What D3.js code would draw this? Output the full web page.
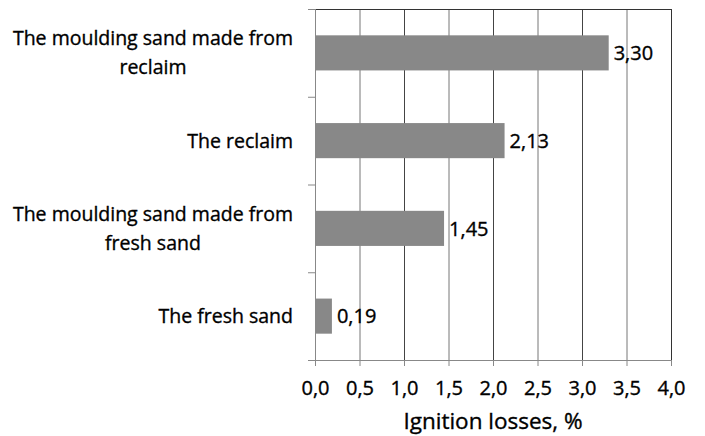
<!DOCTYPE html>
<html>
<head>
<meta charset="utf-8">
<script src="https://cdn.jsdelivr.net/npm/d3@7"></script>
<style>
  body { margin: 0; background: #fff; }
  text { font-family: "Open Sans", sans-serif; fill: #000; stroke: #000; stroke-width: 0.35px; }
</style>
</head>
<body>
<div id="chart"></div>
<script>
// categories from top to bottom, each label split in lines
const categories = [
    ["The moulding sand made from", "reclaim"],
    ["The reclaim"],
    ["The moulding sand made from", "fresh sand"],
    ["The fresh sand"]
];
const values = [3.30, 2.13, 1.45, 0.19];
const valueLabels = ["3,30", "2,13", "1,45", "0,19"];
const xTicks = [0, 0.5, 1, 1.5, 2, 2.5, 3, 3.5, 4];

const width = 705, height = 436;
const margin = {top: 9, right: 34, bottom: 76, left: 315};

const svg = d3.select("#chart").append("svg")
    .attr("width", width)
    .attr("height", height);

const x = d3.scaleLinear()
    .domain([0, 4])
    .range([margin.left, width - margin.right]);

const y = d3.scaleBand()
    .domain(d3.range(categories.length))
    .range([margin.top, height - margin.bottom]);

// vertical gridlines
svg.append("g")
    .selectAll("line")
    .data(xTicks.slice(1))
    .join("line")
    .attr("x1", d => x(d) + 0.5).attr("x2", d => x(d) + 0.5)
    .attr("y1", y.range()[0]).attr("y2", y.range()[1])
    .attr("stroke", (d, i) => i % 2 ? "#444" : "#777")
    .attr("stroke-width", 1);

// plot frame top / right
svg.append("path")
    .attr("d", `M${x(0)},${margin.top + 0.5}H${x(4) + 0.5}V${y.range()[1]}`)
    .attr("fill", "none")
    .attr("stroke", "#333");

// bars
const barH = y.bandwidth() * 0.4;
svg.append("g")
    .selectAll("rect")
    .data(values)
    .join("rect")
    .attr("x", x(0))
    .attr("y", (d, i) => y(i) + (y.bandwidth() - barH) / 2)
    .attr("width", d => x(d) - x(0))
    .attr("height", barH)
    .attr("fill", "#888888");

// value labels
svg.append("g")
    .selectAll("text")
    .data(values)
    .join("text")
    .attr("x", d => x(d) + 5)
    .attr("y", (d, i) => y(i) + y.bandwidth() / 2)
    .attr("dy", "0.36em")
    .attr("font-size", 20)
    .text((d, i) => valueLabels[i]);

// x axis
const xAxis = svg.append("g")
    .attr("transform", `translate(0,${y.range()[1]})`)
    .call(d3.axisBottom(x).tickValues(xTicks).tickSize(6).tickPadding(15)
        .tickFormat(d => d3.format(".1f")(d).replace(".", ",")));
xAxis.select(".domain").attr("stroke", "#888");
xAxis.selectAll(".tick line").attr("stroke", "#888");
xAxis.selectAll("text").attr("font-size", 20).attr("fill", "#000")
    .attr("font-family", "Open Sans, sans-serif");

// y axis line and ticks at category boundaries
const bounds = d3.range(categories.length + 1).map(i => margin.top + i * y.step());
svg.append("line")
    .attr("x1", x(0) + 0.5).attr("x2", x(0) + 0.5)
    .attr("y1", y.range()[0]).attr("y2", y.range()[1])
    .attr("stroke", "#888");
svg.append("g")
    .selectAll("line")
    .data(bounds)
    .join("line")
    .attr("x1", x(0) - 7).attr("x2", x(0))
    .attr("y1", d => d + 0.5).attr("y2", d => d + 0.5)
    .attr("stroke", "#888");

// category labels: block right-aligned, lines centered within the block
const labelRight = 293, lineGap = 29;
categories.forEach((lines, i) => {
    const g = svg.append("g");
    const cy = y(i) + y.bandwidth() / 2;
    const t = g.selectAll("text")
        .data(lines)
        .join("text")
        .attr("font-size", 19.5)
        .attr("text-anchor", "middle")
        .attr("y", (d, j) => cy + (j - (lines.length - 1) / 2) * lineGap)
        .attr("dy", "0.36em")
        .text(d => d);
    const w = d3.max(t.nodes(), n => n.getComputedTextLength());
    t.attr("x", labelRight - w / 2);
});

// axis title
svg.append("text")
    .attr("x", 493)
    .attr("y", 429)
    .attr("text-anchor", "middle")
    .attr("font-size", 22.5)
    .text("Ignition losses, %");
</script>
</body>
</html>
